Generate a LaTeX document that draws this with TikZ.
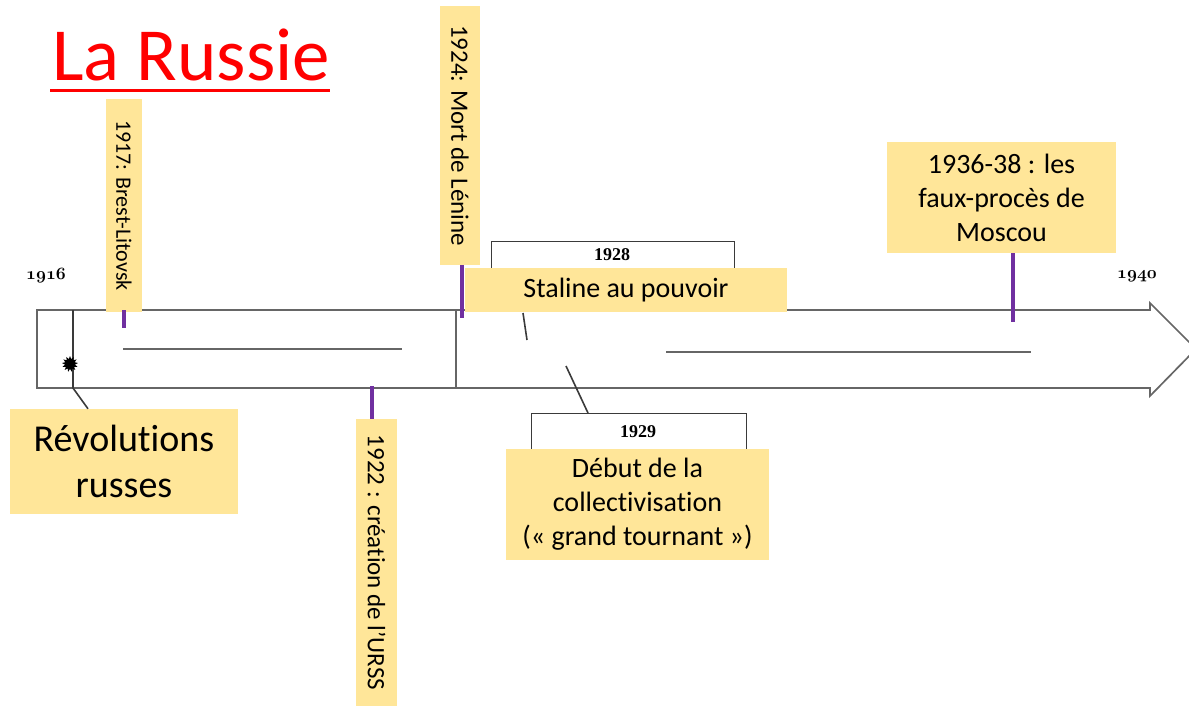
\documentclass[tikz,border=0pt]{standalone}
\usepackage{fontspec}
\setmainfont{Carlito}[Ligatures={NoCommon}]
\newfontfamily\yearfont{Liberation Serif}
\usetikzlibrary{shapes.geometric}
\definecolor{boxyellow}{HTML}{FFE699}
\definecolor{tickpurple}{HTML}{7030A0}
\definecolor{linegray}{HTML}{666666}
\definecolor{darkline}{HTML}{3A3A3A}
\begin{document}
\begin{tikzpicture}[x=1pt,y=-1pt,
  ybox/.style={fill=boxyellow, inner sep=0pt, align=center, text=black},
  tick/.style={draw=tickpurple, line width=3.5pt},
  outl/.style={draw=linegray, line width=1.7pt, line join=miter},
  innerline/.style={draw=linegray, line width=1.8pt},
  conn/.style={draw=darkline, line width=1.6pt},
  yearframe/.style={draw=darkline, line width=1.4pt, fill=white, inner sep=0pt},
  yeartext/.style={font=\yearfont\bfseries\fontsize{18}{20}\selectfont, inner sep=0pt},
  oldyear/.style={font=\usefont{OML}{cmm}{b}{it}\fontsize{18}{20}\selectfont, inner sep=0pt}]
\useasboundingbox (0,0) rectangle (1189,706);

% title
\node[anchor=base west, text=red, inner sep=0pt, font=\fontsize{75}{80}\selectfont] (title) at (52,81) {La Russie};
\draw[red, line width=3pt] (title.base west) ++(-2,10) coordinate (ulA) -- ++(280,0) coordinate (ulB);

% main arrow
\draw[outl] (37,310) -- (1150,310) -- (1150,303) -- (1196,349) -- (1150,396) -- (1150,388) -- (37,388) -- cycle;
\coordinate (d1top) at (456,310);
\coordinate (d1bot) at (456,388);
\draw[outl] (d1top) -- (d1bot);

% inner lines
\coordinate (l1a) at (123,349); \coordinate (l1b) at (402,349);
\coordinate (l2a) at (666,352); \coordinate (l2b) at (1031,352);
\draw[innerline] (l1a) -- (l1b);
\draw[innerline] (l2a) -- (l2b);

% year labels
\node[oldyear] (y1916) at (46,276) {1916};
\node[oldyear] (y1940) at (1137,276) {1940};

% frames 1928 / 1929
\node[yearframe, anchor=north west, minimum width=243, minimum height=50] (f1928) at (491,241) {};
\node[yeartext] (t1928) at (612,255) {1928};
\node[yearframe, anchor=north west, minimum width=215, minimum height=45] (f1929) at (531,413) {};
\node[yeartext] (t1929) at (638,432) {1929};

% connectors
\coordinate (c1a) at (523,313); \coordinate (c1b) at (527,340);
\coordinate (c2a) at (566,366); \coordinate (c2b) at (588,413);
\draw[conn] (c1a) -- (c1b);
\draw[conn] (c2a) -- (c2b);

% revolutions marker
\coordinate (rvtop) at (73,310);
\coordinate (rvbot) at (73,388);
\node[ybox, minimum width=228, minimum height=105, font=\fontsize{38}{46}\selectfont] (rev) at (124,461.5) {Révolutions\\russes};
\draw[conn] (rvtop) -- (rvbot) -- (rev.north west -| 88,0);
\node[star, star points=13, star point ratio=1.6, fill=black, minimum size=16pt, inner sep=0pt] (blob) at (70,364) {};

% yellow boxes
\node[ybox, rotate=-90, minimum width=213, minimum height=36, font=\fontsize{22}{26}\selectfont] (b1917) at (124,205.5) {1917: Brest-Litovsk};
\node[ybox, rotate=-90, minimum width=259, minimum height=40, font=\fontsize{25}{30}\selectfont] (b1924) at (460,135.5) {1924: Mort de Lénine};
\node[ybox, rotate=-90, minimum width=287, minimum height=41, font=\fontsize{25}{30}\selectfont] (b1922) at (376.5,562.5) {1922 : création de l'URSS};
\node[ybox, minimum width=322, minimum height=44, font=\fontsize{28}{34}\selectfont] (stal) at (626,290) {Staline au pouvoir};
\node[ybox, minimum width=263, minimum height=111, font=\fontsize{28}{34}\selectfont] (coll) at (637.5,504.5) {Début de la\\collectivisation\\(« grand tournant »)};
\node[ybox, minimum width=229, minimum height=111, font=\fontsize{28}{34}\selectfont] (proc) at (1001.5,197.5) {1936-38 : les\\faux-procès de\\Moscou};

% purple ticks
\coordinate (k1a) at (124,310); \coordinate (k1b) at (124,328);
\coordinate (k2a) at (462,265); \coordinate (k2b) at (462,318);
\coordinate (k3a) at (372,386); \coordinate (k3b) at (372,419);
\coordinate (k4a) at (1013,253); \coordinate (k4b) at (1013,322);
\draw[tick] (k1a) -- (k1b);
\draw[tick] (k2a) -- (k2b);
\draw[tick] (k3a) -- (k3b);
\draw[tick] (k4a) -- (k4b);
\end{tikzpicture}
\end{document}
